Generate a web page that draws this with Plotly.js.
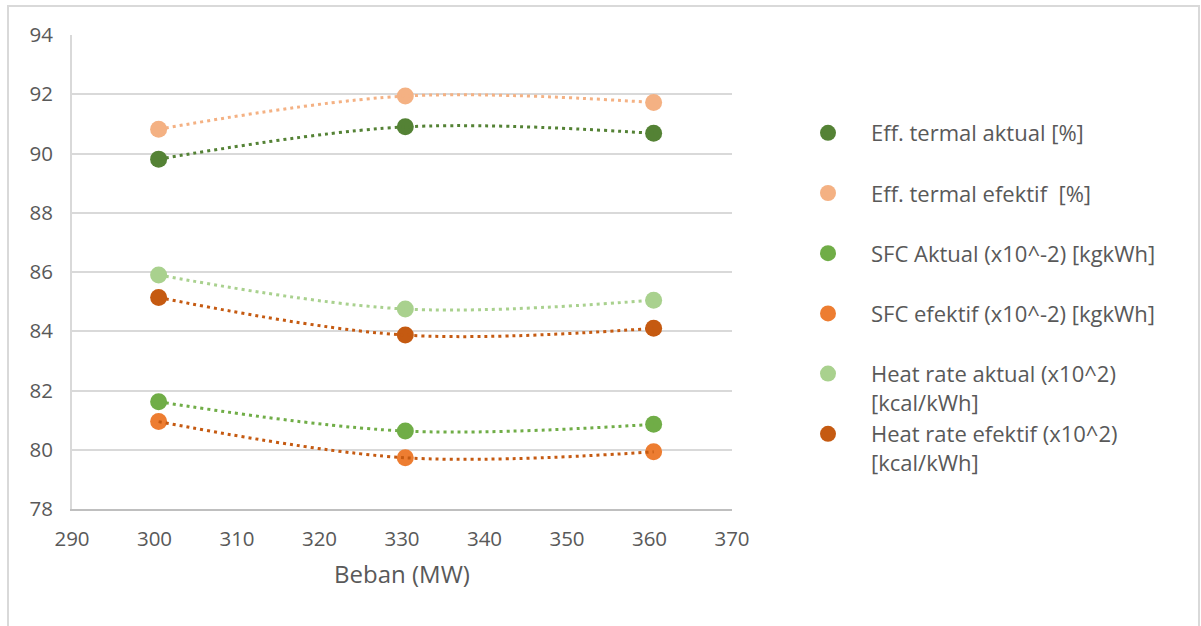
<!DOCTYPE html>
<html>
<head>
<meta charset="utf-8">
<script src="https://cdn.plot.ly/plotly-3.0.1.min.js"></script>
<style>
  html, body { margin: 0; padding: 0; background: #ffffff; }
  #chart { width: 1201px; height: 626px; }
</style>
</head>
<body>
<div id="chart"></div>
<script>
// Beban unit (MW)
const beban = [300.5, 330.4, 360.5];

// Performance series at each load
const effTermalAktual   = [89.81, 90.90, 90.68];
const effTermalEfektif  = [90.82, 91.94, 91.72];
const sfcAktual         = [81.62, 80.63, 80.86];
const sfcEfektif        = [80.95, 79.73, 79.93];
const heatRateAktual    = [85.90, 84.75, 85.05];
const heatRateEfektif   = [85.14, 83.87, 84.10];

// legend labels (single-line names keep an empty second line so every entry has equal height)
const seriesNames = [
  'Eff. termal aktual [%]<br> ',
  'Eff. termal efektif  [%]<br> ',
  'SFC Aktual (x10^-2) [kgkWh]<br> ',
  'SFC efektif (x10^-2) [kgkWh]<br> ',
  'Heat rate aktual (x10^2)<br>[kcal/kWh]',
  'Heat rate efektif (x10^2)<br>[kcal/kWh]'
];
const seriesValues = [effTermalAktual, effTermalEfektif, sfcAktual, sfcEfektif, heatRateAktual, heatRateEfektif];
const markerColors = ['#548235', '#F4B183', '#70AD47', '#ED7D31', '#A9D18E', '#C55A11'];
const trendColors  = ['#548235', '#F4B183', '#70AD47', '#C55A11', '#A9D18E', '#C55A11'];

const xTicks = [290, 300, 310, 320, 330, 340, 350, 360, 370];
const yTicks = [78, 80, 82, 84, 86, 88, 90, 92, 94];

const FONT = '"Open Sans", "Noto Sans", sans-serif';
const GREY = '#595959';

const traces = [];
// scatter markers (legend entries)
seriesValues.forEach((vals, i) => {
  traces.push({
    type: 'scatter', mode: 'markers',
    x: beban, y: vals,
    name: seriesNames[i],
    legendgroup: 'g' + i,
    marker: { color: markerColors[i], size: 17 },
    hoverinfo: 'x+y'
  });
});
// dotted trend curves drawn over the markers
seriesValues.forEach((vals, i) => {
  traces.push({
    type: 'scatter', mode: 'lines',
    x: beban, y: vals,
    showlegend: false,
    hoverinfo: 'skip',
    line: { color: trendColors[i], width: 3, dash: '3px,4px', shape: 'spline', smoothing: 1 }
  });
});

const L = 72, R = 732, T = 35, B = 509, W = 1201, H = 626;
const px2x = p => (p - L) / (R - L);
const px2y = p => (B - p) / (B - T);

const layout = {
  width: W, height: H,
  margin: { l: L, r: W - R, t: T, b: H - B, pad: 0 },
  paper_bgcolor: '#ffffff', plot_bgcolor: '#ffffff',
  font: { family: FONT, color: GREY, size: 21 },
  showlegend: true,
  legend: {
    x: px2x(785), xanchor: 'left',
    y: px2y(112), yanchor: 'top',
    valign: 'top',
    itemwidth: 76,
    tracegroupgap: 0,
    font: { family: FONT, color: GREY, size: 22 },
    bgcolor: 'rgba(0,0,0,0)'
  },
  xaxis: {
    range: [290, 370], tickvals: xTicks, ticktext: xTicks.map(String),
    showgrid: false, zeroline: false,
    showline: true, linecolor: '#BFBFBF', linewidth: 2,
    ticks: '', ticklabelstandoff: 10,
    tickfont: { family: FONT, color: GREY, size: 20.5 },
    title: { text: 'Beban (MW)', font: { family: FONT, color: GREY, size: 24 }, standoff: 16 },
    fixedrange: true
  },
  yaxis: {
    range: [78, 94], tickvals: yTicks, ticktext: yTicks.map(String),
    showgrid: true, gridcolor: '#D9D9D9', gridwidth: 2,
    zeroline: false,
    showline: true, linecolor: '#D9D9D9', linewidth: 2,
    ticks: '', ticklabelstandoff: 13,
    tickfont: { family: FONT, color: GREY, size: 20.5 },
    fixedrange: true
  },
  shapes: [{
    type: 'rect', xref: 'paper', yref: 'paper',
    x0: px2x(8), x1: px2x(1199), y0: px2y(640), y1: px2y(6),
    line: { color: '#D9D9D9', width: 2 }, fillcolor: 'rgba(0,0,0,0)', layer: 'below'
  }]
};

Plotly.newPlot('chart', traces, layout, { displayModeBar: false, staticPlot: true });
</script>
</body>
</html>
